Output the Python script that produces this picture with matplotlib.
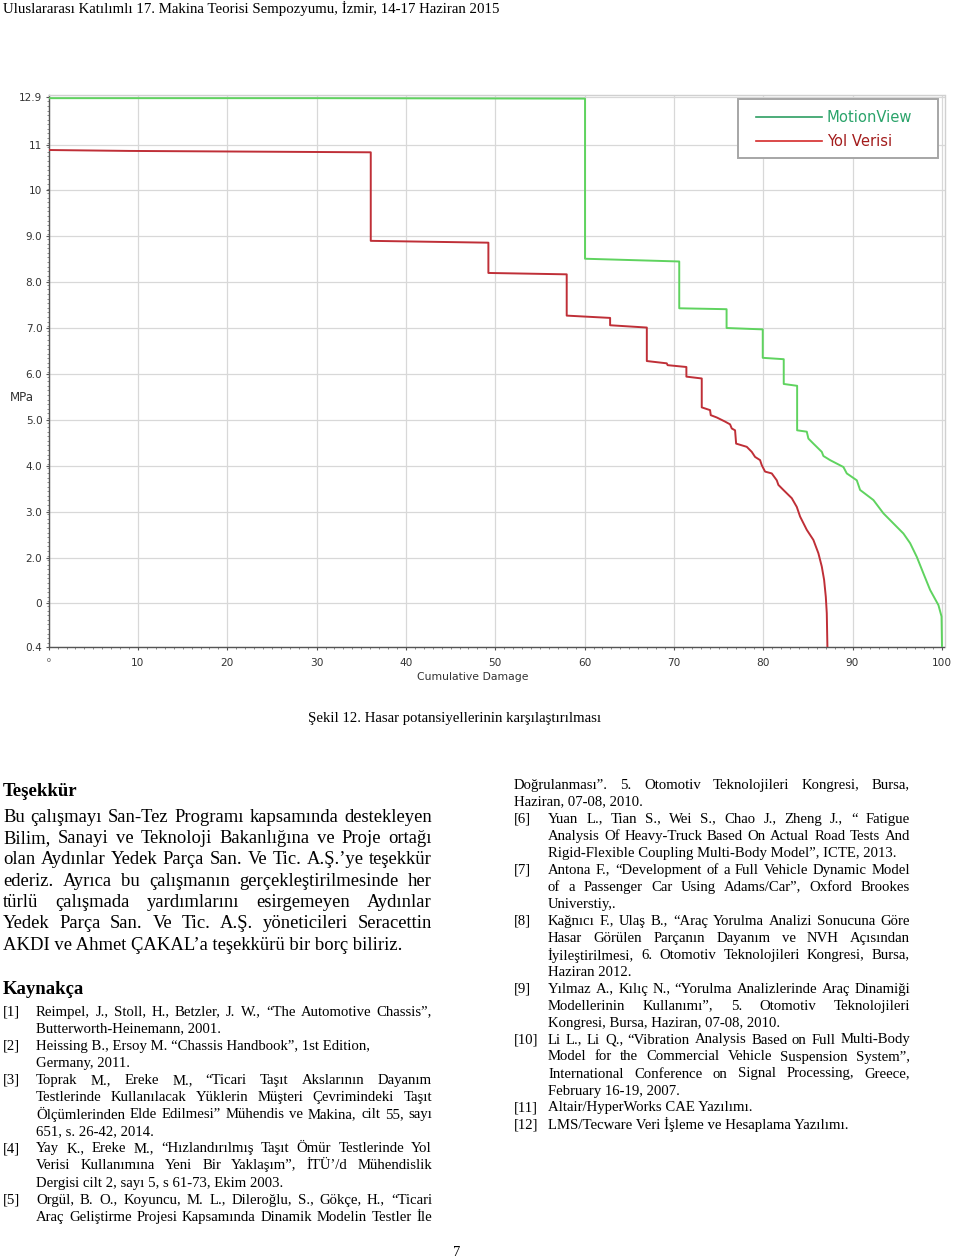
import matplotlib
matplotlib.use('Agg')
import numpy as np
import matplotlib.pyplot as plt
from matplotlib.patches import Rectangle

''' Page with the damage potential chart (Şekil 12) and the text below it '''

# chart data: x = cumulative damage, y = position on the (non linear) MPa axis
green_x = [0, 30.0, 60.05, 60.05, 70.6, 70.6, 75.9, 75.9, 79.95, 79.95, 82.3, 82.3,
           83.8, 83.8, 84.88, 85.06, 85.62, 86.56, 86.74, 87.49, 88.98, 89.36, 90.48,
           90.85, 92.34, 93.46, 94.58, 95.70, 96.45, 97.20, 97.94, 98.69, 99.62,
           99.97, 100.02]
green_y = [11.97, 11.97, 11.96, 8.47, 8.41, 7.39, 7.37, 6.96, 6.93, 6.31, 6.28, 5.74,
           5.70, 4.73, 4.70, 4.55, 4.44, 4.26, 4.17, 4.08, 3.93, 3.79, 3.64,
           3.43, 3.21, 2.92, 2.70, 2.48, 2.27, 1.97, 1.61, 1.25, 0.92,
           0.67, 0.0]

red_x = [0, 9.0, 36.06, 36.06, 49.23, 49.23, 58.0, 58.0, 62.86, 62.86, 66.97, 66.97,
         69.2, 69.3, 71.4, 71.4, 73.12, 73.12, 74.05, 74.13, 74.80, 75.73, 76.29,
         76.48, 76.85, 76.97, 78.16, 78.72, 79.09, 79.65, 79.84, 80.21, 80.96, 81.52,
         81.70, 82.26, 83.20, 83.76, 84.13, 84.88, 85.62, 86.18, 86.56, 86.82, 87.01,
         87.12, 87.19]
red_y = [10.84, 10.82, 10.79, 8.86, 8.82, 8.16, 8.13, 7.23, 7.18, 7.02, 6.97, 6.24,
         6.19, 6.15, 6.11, 5.90, 5.86, 5.23, 5.17, 5.06, 5.01, 4.92, 4.86,
         4.77, 4.73, 4.44, 4.37, 4.26, 4.15, 4.08, 3.97, 3.83, 3.79, 3.64,
         3.54, 3.43, 3.25, 3.06, 2.85, 2.56, 2.34, 2.05, 1.76, 1.47, 1.10,
         0.74, 0.0]

y_tick_pos = [0, 0.96, 1.95, 2.95, 3.96, 4.95, 5.95, 6.96, 7.96, 8.96, 9.96, 10.94, 12.0]
y_tick_labels = ['0.4', '0', '2.0', '3.0', '4.0', '5.0', '6.0', '7.0', '8.0', '9.0',
                 '10', '11', '12.9']
x_tick_pos = [0, 10, 20, 30, 40, 50, 60, 70, 80, 90, 100]
series_names = ['MotionView', 'Yol Verisi']

# page text
header = 'Uluslararası Katılımlı 17. Makina Teorisi Sempozyumu, İzmir, 14-17 Haziran 2015'
caption = 'Şekil 12. Hasar potansiyellerinin karşılaştırılması'

thanks = [
    ('Bu çalışmayı San-Tez Programı kapsamında destekleyen', True),
    ('Bilim, Sanayi ve Teknoloji Bakanlığına ve Proje ortağı', True),
    ('olan Aydınlar Yedek Parça San. Ve Tic. A.Ş.’ye teşekkür', True),
    ('ederiz. Ayrıca bu çalışmanın gerçekleştirilmesinde her', True),
    ('türlü çalışmada yardımlarını esirgemeyen Aydınlar', True),
    ('Yedek Parça San. Ve Tic. A.Ş. yöneticileri Seracettin', True),
    ('AKDI ve Ahmet ÇAKAL’a teşekkürü bir borç biliriz.', False),
]

# (label, text, justified)
refs_left = [
    ('[1]', 'Reimpel, J., Stoll, H., Betzler, J. W., “The Automotive Chassis”,', True),
    ('', 'Butterworth-Heinemann, 2001.', False),
    ('[2]', 'Heissing B., Ersoy M. “Chassis Handbook”, 1st Edition,', False),
    ('', 'Germany, 2011.', False),
    ('[3]', 'Toprak M., Ereke M., “Ticari Taşıt Akslarının Dayanım', True),
    ('', 'Testlerinde Kullanılacak Yüklerin Müşteri Çevrimindeki Taşıt', True),
    ('', 'Ölçümlerinden Elde Edilmesi” Mühendis ve Makina, cilt 55, sayı', True),
    ('', '651, s. 26-42, 2014.', False),
    ('[4]', 'Yay K., Ereke M., “Hızlandırılmış Taşıt Ömür Testlerinde Yol', True),
    ('', 'Verisi Kullanımına Yeni Bir Yaklaşım”, İTÜ’/d Mühendislik', True),
    ('', 'Dergisi cilt 2, sayı 5, s 61-73, Ekim 2003.', False),
    ('[5]', 'Orgül, B. O., Koyuncu, M. L., Dileroğlu, S., Gökçe, H., “Ticari', True),
    ('', 'Araç Geliştirme Projesi Kapsamında Dinamik Modelin Testler İle', True),
]

refs_right = [
    (None, 'Doğrulanması”. 5. Otomotiv Teknolojileri Kongresi, Bursa,', True),
    (None, 'Haziran, 07-08, 2010.', False),
    ('[6]', 'Yuan L., Tian S., Wei S., Chao J., Zheng J., “ Fatigue', True),
    ('', 'Analysis Of Heavy-Truck Based On Actual Road Tests And', True),
    ('', 'Rigid-Flexible Coupling Multi-Body Model”, ICTE, 2013.', False),
    ('[7]', 'Antona F., “Development of a Full Vehicle Dynamic Model', True),
    ('', 'of a Passenger Car Using Adams/Car”, Oxford Brookes', True),
    ('', 'Universtiy,.', False),
    ('[8]', 'Kağnıcı F., Ulaş B., “Araç Yorulma Analizi Sonucuna Göre', True),
    ('', 'Hasar Görülen Parçanın Dayanım ve NVH Açısından', True),
    ('', 'İyileştirilmesi, 6. Otomotiv Teknolojileri Kongresi, Bursa,', True),
    ('', 'Haziran 2012.', False),
    ('[9]', 'Yılmaz A., Kılıç N., “Yorulma Analizlerinde Araç Dinamiği', True),
    ('', 'Modellerinin Kullanımı”, 5. Otomotiv Teknolojileri', True),
    ('', 'Kongresi, Bursa, Haziran, 07-08, 2010.', False),
    ('[10]', 'Li L., Li Q., “Vibration Analysis Based on Full Multi-Body', True),
    ('', 'Model for the Commercial Vehicle Suspension System”,', True),
    ('', 'International Conference on Signal Processing, Greece,', True),
    ('', 'February 16-19, 2007.', False),
    ('[11]', 'Altair/HyperWorks CAE Yazılımı.', False),
    ('[12]', 'LMS/Tecware Veri İşleme ve Hesaplama Yazılımı.', False),
]

W, H = 960, 1259
SERIF = 'Liberation Serif'
fig = plt.figure(figsize=(W / 100, H / 100), dpi=100)
fig.patch.set_facecolor('white')
renderer = fig.canvas.get_renderer()

# page overlay in pixel coordinates
page = fig.add_axes([0, 0, 1, 1], zorder=0)
page.set_xlim(0, W)
page.set_ylim(H, 0)
page.axis('off')


def put_line(text, x0, x1, y, size, justify=False, weight='normal'):
    ''' write one line of text, spreading the words between x0 and x1 if justify '''
    kw = dict(fontsize=size, family=SERIF, weight=weight, va='center', ha='left',
              color='black')
    if not justify:
        page.text(x0, y, text, **kw)
        return
    words = text.split(' ')
    items = [page.text(0, y, w, **kw) for w in words]
    widths = [t.get_window_extent(renderer).width for t in items]
    gap = (x1 - x0 - sum(widths)) / max(len(words) - 1, 1)
    x = x0
    for t, w in zip(items, widths):
        t.set_x(x)
        x += w + gap


page.text(3, 8, header, fontsize=10.7, family=SERIF, va='center', ha='left')
page.text(455, 718, caption, fontsize=10.6, family=SERIF, va='center', ha='center')
page.text(457, 1252, '7', fontsize=10.5, family=SERIF, va='center', ha='center')

body_size = 13.4
ref_size = 10.65

page.text(3, 791, 'Teşekkür', fontsize=13.5, family=SERIF, weight='bold', va='center')
for i, (line, just) in enumerate(thanks):
    put_line(line, 3, 432, 817 + i * 21.35, body_size, just)

page.text(3, 989, 'Kaynakça', fontsize=13.5, family=SERIF, weight='bold', va='center')
for i, (lab, line, just) in enumerate(refs_left):
    y = 1012 + i * 17.1
    if lab:
        put_line(lab, 3, 36, y, ref_size)
    put_line(line, 36, 432, y, ref_size, just)

for i, (lab, line, just) in enumerate(refs_right):
    y = 785 + i * 17.0
    if lab is None:
        put_line(line, 514, 910, y, ref_size, just)
        continue
    if lab:
        put_line(lab, 514, 548, y, ref_size)
    put_line(line, 548, 910, y, ref_size, just)

# chart
left, right, top, bottom = 48.7, 944.5, 94.5, 647.3
ax = fig.add_axes([left / W, 1 - bottom / H, (right - left) / W, (bottom - top) / H],
                  zorder=2)
ax.set_facecolor('white')

green = '#5fd35f'
red = '#bf2f37'
ax.plot(green_x, green_y, color=green, lw=1.4, zorder=3)
ax.plot(red_x, red_y, color=red, lw=1.4, zorder=3)

ax.set_xlim(0, 100.3)
ax.set_ylim(0, 12.05)
ax.set_xticks(x_tick_pos)
ax.set_xticklabels([str(v) for v in x_tick_pos])
ax.set_xticks(np.arange(0, 101, 1), minor=True)
ax.set_yticks(y_tick_pos)
ax.set_yticklabels(y_tick_labels)
ax.set_yticks(np.arange(0, 12.05, 0.1), minor=True)
ax.grid(True, which='major', color='#d8d8d8', lw=0.9)
ax.set_axisbelow(True)

ax.tick_params(axis='both', which='major', labelsize=7.6, labelcolor='#333333',
               color='#555555', length=2.5, width=0.8)
ax.tick_params(axis='x', which='major', pad=5)
ax.tick_params(axis='y', which='major', pad=2)
ax.tick_params(axis='both', which='minor', color='#777777', length=1.5, width=0.6)
ax.get_xticklabels()[0].set_fontsize(4.5)

for side in ['top', 'right']:
    ax.spines[side].set_color('#d0d0d0')
    ax.spines[side].set_linewidth(1.0)
for side in ['left', 'bottom']:
    ax.spines[side].set_color('#555555')
    ax.spines[side].set_linewidth(1.0)

page.text(21.5, 397, 'MPa', fontsize=8.6, color='#333333', va='center', ha='center')
page.text(473, 677, 'Cumulative Damage', fontsize=7.8, color='#333333', va='center',
          ha='center')

# legend box drawn on top of the chart, in page pixels
legend = fig.add_axes([0, 0, 1, 1], zorder=5)
legend.set_xlim(0, W)
legend.set_ylim(H, 0)
legend.axis('off')
legend.add_patch(Rectangle((738, 99), 200, 59, facecolor='white', edgecolor='#a6a6a6',
                           lw=1.4))
line_colors = ['#2e9e62', '#d42a2a']
text_colors = ['#2aa36a', '#a31c1c']
for i, name in enumerate(series_names):
    y = 117 + i * 24
    legend.plot([756, 822], [y, y], color=line_colors[i], lw=1.2)
    legend.text(827, y, name, fontsize=10.6, color=text_colors[i], va='center', ha='left')

fig.savefig('out.png', dpi=100, facecolor='white')
